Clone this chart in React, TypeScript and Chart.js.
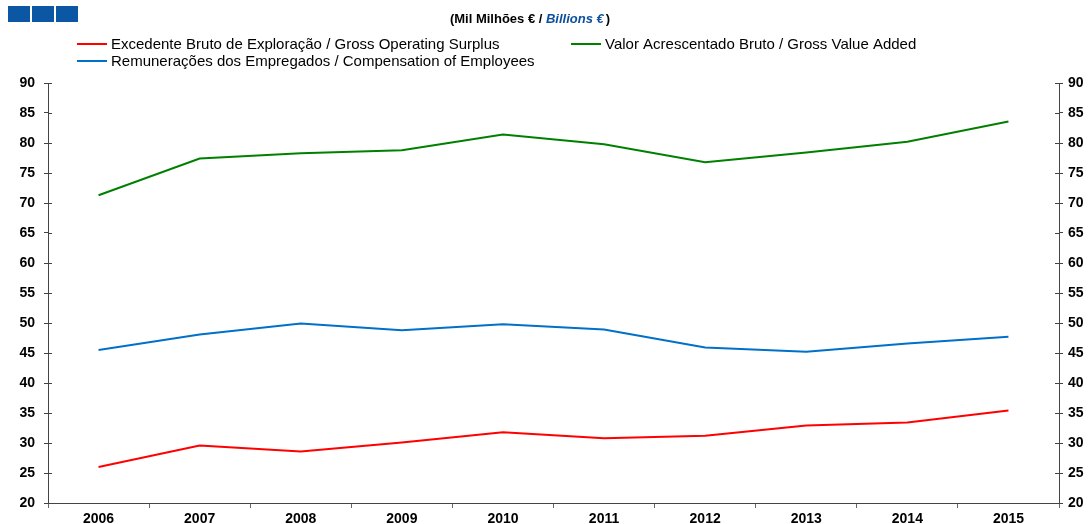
import React, { useEffect, useRef } from "react";
import { Chart, registerables } from "chart.js";

Chart.register(...registerables);

const years = ["2006", "2007", "2008", "2009", "2010", "2011", "2012", "2013", "2014", "2015"];
const grossOperatingSurplus = [26.0, 29.6, 28.6, 30.1, 31.8, 30.8, 31.2, 32.9, 33.4, 35.4];
const grossValueAdded = [71.3, 77.4, 78.3, 78.8, 81.4, 79.8, 76.8, 78.4, 80.2, 83.6];
const compensationOfEmployees = [45.5, 48.1, 49.9, 48.8, 49.8, 48.9, 45.9, 45.2, 46.6, 47.7];
const yTicks = [20, 25, 30, 35, 40, 45, 50, 55, 60, 65, 70, 75, 80, 85, 90];

const seriesLabels = [
  "Excedente Bruto de Exploração / Gross Operating Surplus",
  "Valor Acrescentado Bruto / Gross Value Added",
  "Remunerações dos Empregados / Compensation of Employees",
];
const seriesColors = ["#ff0000", "#008000", "#0070c8"];

const FONT = "'Liberation Sans', Arial, sans-serif";

const decorPlugin = {
  id: "decor",
  afterDraw(chart: any) {
    const ctx = chart.ctx as CanvasRenderingContext2D;
    ctx.save();
    // logo squares
    ctx.fillStyle = "#0b57a4";
    for (let i = 0; i < 3; i++) {
      ctx.fillRect(8 + i * 24, 6, 22, 16);
    }
    // title
    ctx.textBaseline = "middle";
    const p1 = "(Mil Milhões € / ";
    const p2 = "Billions €";
    const p3 = ")";
    ctx.font = `bold 13px ${FONT}`;
    const w1 = ctx.measureText(p1).width;
    const w3 = ctx.measureText(p3).width;
    ctx.font = `italic bold 13px ${FONT}`;
    const w2 = ctx.measureText(p2).width;
    let x = 529 - (w1 + w2 + w3) / 2;
    const ty = 19;
    ctx.font = `bold 13px ${FONT}`;
    ctx.fillStyle = "#000";
    ctx.fillText(p1, x, ty);
    x += w1;
    ctx.font = `italic bold 13px ${FONT}`;
    ctx.fillStyle = "#0b4f9c";
    ctx.fillText(p2, x, ty);
    x += w2 + 2;
    ctx.font = `bold 13px ${FONT}`;
    ctx.fillStyle = "#000";
    ctx.fillText(p3, x, ty);

    // legend
    const items = [
      { x: 77, y: 44, i: 0 },
      { x: 571, y: 44, i: 1 },
      { x: 77, y: 61, i: 2 },
    ];
    ctx.font = `15px ${FONT}`;
    for (const it of items) {
      ctx.strokeStyle = seriesColors[it.i];
      ctx.lineWidth = 2;
      ctx.beginPath();
      ctx.moveTo(it.x, it.y);
      ctx.lineTo(it.x + 30, it.y);
      ctx.stroke();
      ctx.fillStyle = "#000";
      ctx.fillText(seriesLabels[it.i], it.x + 34, it.y + 1);
    }

    // inward tick marks on y axes
    const ys = chart.scales.y;
    const yr = chart.scales.y2;
    ctx.strokeStyle = "#444";
    ctx.lineWidth = 1;
    for (const v of yTicks) {
      const py = Math.round(ys.getPixelForValue(v)) + 0.5;
      ctx.beginPath();
      ctx.moveTo(ys.right, py);
      ctx.lineTo(ys.right + 4, py);
      ctx.moveTo(yr.left - 4, py);
      ctx.lineTo(yr.left, py);
      ctx.stroke();
    }
    ctx.restore();
  },
};

export default function App() {
  const ref = useRef<HTMLCanvasElement | null>(null);
  useEffect(() => {
    if (!ref.current) return;
    Chart.defaults.font.family = FONT;
    const tickFont = { family: FONT, size: 14, weight: "bold" as const };
    const chart = new Chart(ref.current, {
      type: "line",
      data: {
        labels: years,
        datasets: [
          { label: seriesLabels[0], data: grossOperatingSurplus, borderColor: seriesColors[0], yAxisID: "y" },
          { label: seriesLabels[1], data: grossValueAdded, borderColor: seriesColors[1], yAxisID: "y" },
          { label: seriesLabels[2], data: compensationOfEmployees, borderColor: seriesColors[2], yAxisID: "y" },
        ].map((d) => ({ ...d, borderWidth: 2, pointRadius: 0, tension: 0, fill: false })),
      },
      options: {
        animation: false,
        responsive: false,
        layout: { padding: { top: 83, bottom: 0, left: 0, right: 0 } },
        plugins: { legend: { display: false }, tooltip: { enabled: false } },
        scales: {
          x: {
            offset: true,
            grid: { display: true, offset: true, drawOnChartArea: false, drawTicks: true, tickLength: 5, color: "#666" },
            border: { display: true, color: "#444" },
            ticks: { color: "#000", font: tickFont, padding: 3, maxRotation: 0 },
            afterFit: (s: any) => { s.height = 21; },
          },
          y: {
            position: "left",
            min: 20,
            max: 90,
            afterBuildTicks: (s: any) => { s.ticks = yTicks.map((v) => ({ value: v })); },
            grid: { display: true, drawOnChartArea: false, drawTicks: true, tickLength: 4, color: "#444" },
            border: { display: true, color: "#444" },
            ticks: { color: "#000", font: tickFont, padding: 9 },
            afterFit: (s: any) => { s.width = 48; },
          },
          y2: {
            position: "right",
            min: 20,
            max: 90,
            afterBuildTicks: (s: any) => { s.ticks = yTicks.map((v) => ({ value: v })); },
            grid: { display: true, drawOnChartArea: false, drawTicks: true, tickLength: 4, color: "#444" },
            border: { display: true, color: "#444" },
            ticks: { color: "#000", font: tickFont, padding: 5 },
            afterFit: (s: any) => { s.width = 29; },
          },
        },
      },
      plugins: [decorPlugin],
    });
    return () => chart.destroy();
  }, []);
  return (
    <div style={{ position: "absolute", left: 0, top: 0, width: 1088, height: 524, background: "#fff" }}>
      <canvas ref={ref} width={1088} height={524} style={{ display: "block" }} />
    </div>
  );
}
